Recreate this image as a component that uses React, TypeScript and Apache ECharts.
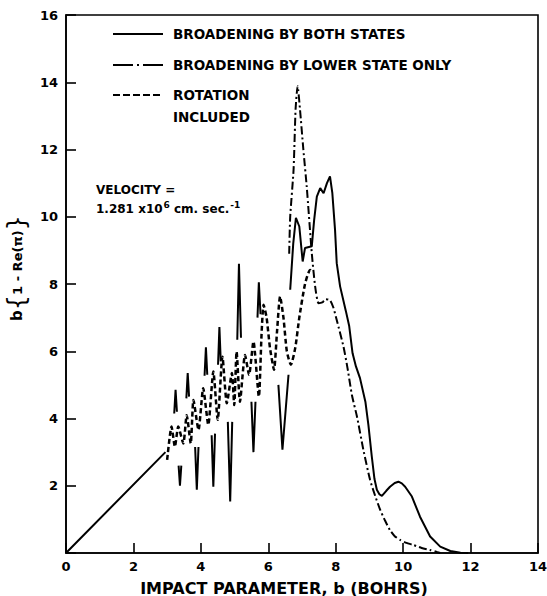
import React, { useEffect, useRef } from "react";
import * as echarts from "echarts";

// x ticks / y ticks
const xTicks = [0, 2, 4, 6, 8, 10, 12, 14];
const yTicks = [0, 2, 4, 6, 8, 10, 12, 14, 16];

// Solid curve: broadening by both states (pieces)
const solidRamp = [[0, 0], [2.95, 3.0]];
const solidUpSpikes = [
  [[3.21, 4.15], [3.25, 4.85], [3.29, 4.2]],
  [[3.57, 4.6], [3.61, 5.35], [3.65, 4.65]],
  [[4.11, 5.27], [4.15, 6.12], [4.19, 5.3]],
  [[4.51, 5.6], [4.55, 6.72], [4.59, 5.7]],
  [[5.08, 6.34], [5.13, 8.6], [5.19, 6.4]],
  [[5.68, 7.0], [5.72, 8.05], [5.77, 7.1]],
];
const solidDownSpikes = [
  [[3.34, 2.6], [3.38, 2.0], [3.42, 2.6]],
  [[3.83, 3.15], [3.88, 1.88], [3.93, 3.15]],
  [[4.32, 3.5], [4.37, 1.97], [4.42, 3.55]],
  [[4.8, 3.9], [4.87, 1.53], [4.93, 3.9]],
  [[5.5, 4.5], [5.56, 3.0], [5.62, 4.5]],
  [[6.3, 5.0], [6.42, 3.07], [6.6, 5.3]],
];
const solidPeak = [
  [6.65, 7.83], [6.74, 9.2], [6.82, 9.97], [6.92, 9.71], [7.02, 8.67], [7.09, 9.07],
  [7.29, 9.12], [7.36, 9.9], [7.44, 10.6], [7.54, 10.85], [7.64, 10.7], [7.74, 11.0],
  [7.83, 11.2], [7.9, 10.7], [7.98, 9.61], [8.03, 8.62], [8.13, 7.93], [8.3, 7.2],
  [8.4, 6.75], [8.5, 5.94], [8.6, 5.55], [8.72, 5.2], [8.88, 4.5], [8.97, 3.8],
  [9.07, 2.87], [9.15, 2.2], [9.22, 1.88], [9.3, 1.74], [9.37, 1.7], [9.5, 1.85],
  [9.61, 1.97], [9.75, 2.08], [9.86, 2.12], [9.96, 2.07], [10.06, 1.97], [10.26, 1.68],
  [10.5, 1.08], [10.8, 0.49], [11.1, 0.19], [11.4, 0.06], [11.7, 0.01], [11.93, 0],
];

// Dash-dot curve: broadening by lower state only
const lowerStateOnly = [
  [6.62, 8.9], [6.65, 10.0], [6.75, 11.4], [6.81, 13.2], [6.87, 13.88], [6.94, 13.2],
  [7.04, 12.0], [7.14, 10.9], [7.29, 8.92], [7.39, 7.93], [7.49, 7.43], [7.6, 7.45],
  [7.7, 7.55], [7.83, 7.52], [7.93, 7.3], [8.03, 6.93], [8.23, 6.14], [8.35, 5.5],
  [8.48, 4.7], [8.63, 4.06], [8.82, 3.07], [9.02, 2.17], [9.17, 1.7], [9.32, 1.28],
  [9.47, 0.95], [9.61, 0.68], [9.75, 0.5], [9.91, 0.39], [10.1, 0.3], [10.3, 0.24],
  [10.55, 0.15], [10.8, 0.09], [11.0, 0.03], [11.1, 0],
];

// Dashed curve: rotation included
const rotationIncluded = [
  [3.0, 2.77], [3.13, 3.76], [3.23, 3.16], [3.33, 3.76], [3.48, 3.26], [3.58, 4.1],
  [3.7, 3.26], [3.78, 4.55], [3.93, 3.66], [4.07, 4.9], [4.22, 3.81], [4.37, 5.4],
  [4.5, 3.96], [4.64, 5.84], [4.77, 4.45], [4.92, 5.35], [4.99, 4.4], [5.06, 5.99],
  [5.16, 4.5], [5.31, 5.89], [5.43, 5.3], [5.56, 6.29], [5.72, 4.65], [5.8, 6.5],
  [5.86, 7.38], [5.95, 7.0], [6.05, 6.1], [6.17, 5.45], [6.26, 6.6], [6.35, 7.63],
  [6.45, 7.0], [6.55, 6.0], [6.67, 5.6], [6.8, 6.1], [6.92, 7.0], [7.09, 8.0],
  [7.24, 8.42], [7.3, 8.35],
];

const legendLabels = [
  "BROADENING BY BOTH STATES",
  "BROADENING BY LOWER STATE ONLY",
  "ROTATION\nINCLUDED",
];

const FONT = '"DejaVu Sans", "Liberation Sans", sans-serif';

function buildSolid() {
  const pieces: number[][][] = [solidRamp, ...solidUpSpikes, ...solidDownSpikes, solidPeak];
  pieces.sort((a, b) => a[0][0] - b[0][0]);
  const out: any[] = [];
  pieces.forEach((p, i) => {
    if (i > 0) out.push([p[0][0] - 0.001, null]);
    p.forEach((pt) => out.push(pt));
  });
  return out;
}

export default function App() {
  const ref = useRef<HTMLDivElement>(null);
  useEffect(() => {
    if (!ref.current) return;
    const chart = echarts.init(ref.current, null, { renderer: "svg" });
    const axisCommon = {
      type: "value",
      axisLine: { show: true, lineStyle: { color: "#000", width: 1.6 } },
      axisTick: { show: true, inside: true, length: 10, lineStyle: { color: "#000", width: 1.6 } },
      splitLine: { show: false },
      axisLabel: {
        color: "#000",
        fontSize: 13,
        fontWeight: "bold",
        fontFamily: FONT,
      },
    };
    const legendY = [34, 65, 95];
    const lineStyles = [
      { lineDash: null },
      { lineDash: [20, 4, 2, 4] },
      { lineDash: [7, 3] },
    ];
    const graphics: any[] = [];
    legendLabels.forEach((t, i) => {
      graphics.push({
        type: "line",
        shape: { x1: 113, y1: legendY[i], x2: 163, y2: legendY[i] },
        style: { stroke: "#000", lineWidth: 2, lineDash: lineStyles[i].lineDash },
      });
      graphics.push({
        type: "text",
        x: 173,
        y: legendY[i] - 11,
        style: {
          text: t,
          fill: "#000",
          font: `bold 13.5px ${FONT}`,
          lineHeight: 22,
          textVerticalAlign: "top",
          verticalAlign: "top",
        },
      });
    });
    graphics.push({
      type: "text",
      x: 96,
      y: 180,
      style: {
        text: "{a|VELOCITY =}\n{a|1.281 x10}{s|6}{a| cm. sec.}{s|-1}",
        fill: "#000",
        font: `bold 12px ${FONT}`,
        textVerticalAlign: "top",
        verticalAlign: "top",
        rich: {
          a: { font: `bold 12px ${FONT}`, fill: "#000", color: "#000", lineHeight: 19 },
          s: { font: `bold 9px ${FONT}`, fill: "#000", color: "#000", lineHeight: 19, verticalAlign: "top", padding: [1, 0, 0, 1] },
        },
      },
    });

    chart.setOption({
      animation: false,
      backgroundColor: "#fff",
      grid: {
        left: 66,
        right: 9,
        top: 15,
        bottom: 43,
        containLabel: false,
        outerBoundsMode: "none",
        show: true,
        borderColor: "#000",
        borderWidth: 1.6,
        backgroundColor: "transparent",
      },
      xAxis: {
        ...axisCommon,
        min: xTicks[0],
        max: xTicks[xTicks.length - 1],
        interval: 2,
        name: "IMPACT PARAMETER, b (BOHRS)",
        nameLocation: "middle",
        nameGap: 27,
        nameTextStyle: {
          color: "#000",
          fontSize: 16,
          fontWeight: "bold",
          fontFamily: FONT,
          padding: [0, 36, 0, 0],
        },
        axisLabel: { ...axisCommon.axisLabel, margin: 7 },
      },
      yAxis: {
        ...axisCommon,
        min: yTicks[0],
        max: yTicks[yTicks.length - 1],
        interval: 2,
        name: "{b|b}{br|{}{t|1 - Re(π)}}",
        nameLocation: "middle",
        nameGap: 22,
        nameRotate: 90,
        nameTextStyle: {
          color: "#000",
          fontSize: 24,
          fontFamily: FONT,
          padding: [0, 0, 0, 32],
          rich: {
            b: { fontSize: 15, fontWeight: "bold", fontFamily: FONT, color: "#000" },
            br: { fontSize: 24, fontFamily: FONT, color: "#000" },
            t: { fontSize: 13, fontWeight: "bold", fontFamily: FONT, color: "#000" },
          },
        },
        axisLabel: {
          ...axisCommon.axisLabel,
          margin: 8,
          formatter: (v: number) => (v === 0 ? "" : String(v)),
        },
      },
      graphic: graphics,
      series: [
        {
          name: "BROADENING BY BOTH STATES",
          type: "line",
          data: buildSolid(),
          symbol: "none",
          connectNulls: false,
          lineStyle: { color: "#000", width: 2 },
        },
        {
          name: "BROADENING BY LOWER STATE ONLY",
          type: "line",
          data: lowerStateOnly,
          symbol: "none",
          smooth: 0.2,
          lineStyle: { color: "#000", width: 2, type: [8, 3, 2, 3] },
        },
        {
          name: "ROTATION INCLUDED",
          type: "line",
          data: rotationIncluded,
          symbol: "none",
          smooth: 0.2,
          lineStyle: { color: "#000", width: 2.5, type: [5, 3] },
        },
      ],
    });
    return () => chart.dispose();
  }, []);
  return (
    <div
      ref={ref}
      style={{ position: "absolute", left: 0, top: 0, width: 547, height: 596, background: "#fff" }}
    />
  );
}
